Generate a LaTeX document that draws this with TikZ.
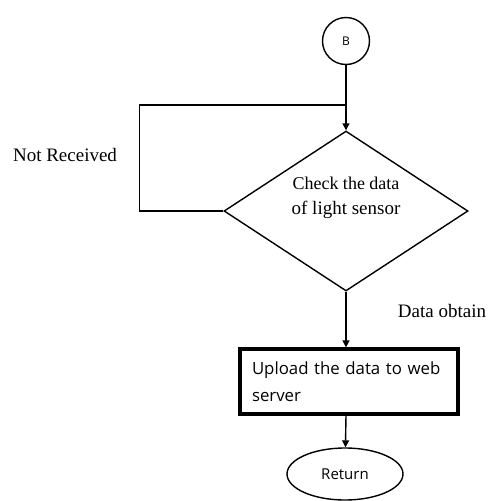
\documentclass[tikz,border=0pt]{standalone}
\usepackage{fontspec}
\setmainfont{Liberation Serif}
\newfontfamily\uisans{Open Sans}
\usetikzlibrary{arrows.meta}
\usetikzlibrary{shapes.geometric}
\tikzset{
	every path/.style={line width=1.4pt},
	align=center,
	serif/.style={
		font=\rmfamily\fontsize{19}{25}\selectfont,
	},
	connector/.style={
		draw,
		circle,
		minimum size=47pt,
		inner sep=0pt,
		font=\uisans\fontsize{12}{14}\selectfont,
	},
	decision/.style={
		draw,
		diamond,
		minimum width=244pt,
		minimum height=160pt,
		inner sep=0pt,
	},
	process/.style={
		draw,
		rectangle,
		line width=3.2pt,
		minimum width=218pt,
		minimum height=65pt,
		text width=194pt,
		align=left,
		font=\uisans\fontsize{16.8}{27}\selectfont,
	},
	terminal/.style={
		draw,
		ellipse,
		minimum width=116pt,
		minimum height=52pt,
		inner sep=0pt,
		font=\uisans\fontsize{15}{18}\selectfont,
	},
	flow/.style={
		-{Triangle[width=7pt,length=7pt]}
	},
}
\begin{document}
\begin{tikzpicture}[x=1pt,y=-1pt]
		\useasboundingbox (0,0) rectangle (490,501);

		\node[connector] (B) at (346,41) {B};
		\node[decision] (check) at (346,211) {};
		\node[serif] (checktext) at (346,198) {\fontsize{18}{25}\selectfont Check the data\\of light sensor};
		\node[process] (upload) at (349,381.5) {Upload the data to web\\server};
		\node[terminal] (return) at (345,474) {Return};

		\node[serif] (notreceived) at (65,155) {Not Received};
		\node[serif] (dataobtain) at (442,311) {Data obtain};

		\coordinate (join) at (346,105);

		\draw[flow] (B) -- (check);
		\draw (check.west) -- ++(-84,0) |- (join);
		\draw[flow] (check.south) -- (check.south |- upload.north);
		\draw[flow] (upload.south -| check.south) -- (return);

	\end{tikzpicture}
\end{document}
